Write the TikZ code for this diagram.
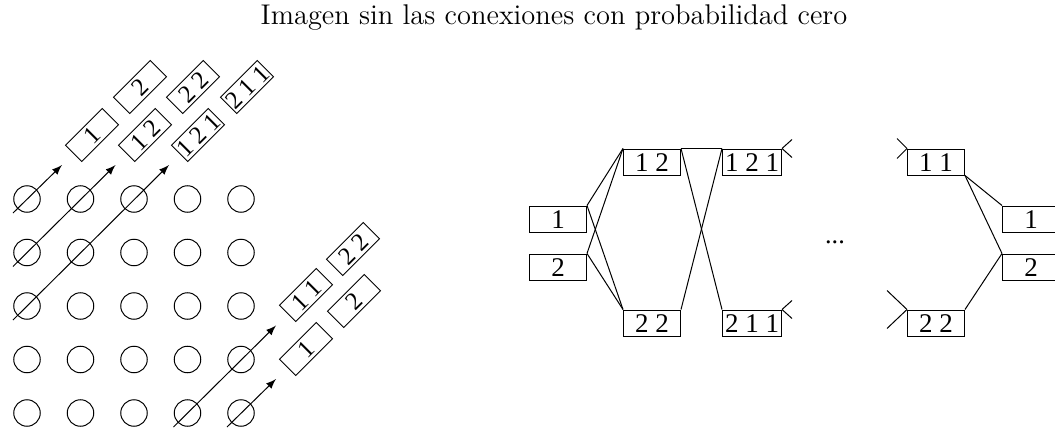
\documentclass[tikz,border=0pt]{standalone}
\usepackage{fontspec}
\usetikzlibrary{calc}
\newfontfamily\cajafont{Liberation Serif}
\tikzset{
  bola/.style={draw, circle, minimum size=10.6pt, inner sep=0pt},
  celda/.style={draw, rectangle, font=\cajafont\fontsize{10.8}{12}\selectfont,
    minimum width=22.8pt, minimum height=10.4pt, inner sep=1pt,
    text height=7.6pt, text depth=0pt},
  diag/.style={draw, rectangle, rotate=45, font=\cajafont\fontsize{10}{11}\selectfont,
    minimum width=20.8pt, minimum height=9.2pt, inner sep=0.3pt,
    text height=7pt, text depth=0pt},
}
\begin{document}
\begin{tikzpicture}[x=0.4pt, y=-0.4pt]
\useasboundingbox (0,0) rectangle (1055,433);
% titulo
\node[font=\fontsize{11.4}{13}\selectfont] (titulo) at (554,18) {Imagen sin las conexiones con probabilidad cero};
% rejilla de bolas
\foreach \i in {0,...,4}
  \foreach \j in {0,...,4}
    \node[bola] (c\i\j) at (27+53.5*\i, 199+53.5*\j) {};
% diagonales con flecha
\draw[-latex] ($(c00)+(-14,14)$) -- ($(c00)+(35,-34)$);
\draw[-latex] ($(c01)+(-14,14)$) -- ($(c10)+(35,-34)$);
\draw[-latex] ($(c02)+(-14,14)$) -- ($(c20)+(35,-34)$);
\draw[-latex] ($(c34)+(-14,14)$) -- ($(c43)+(35,-34)$);
\draw[-latex] ($(c44)+(-14,14)$) -- ($(c44)+(35,-34)$);
% cadenas arriba
\node[diag] (d1) at (92,135) {1};
\node[diag] (d12) at (145,135) {1 2};
\node[diag] (d121) at (198,135) {1 2 1};
\node[diag] (d2) at (140,87) {2};
\node[diag] (d22) at (193,87) {2 2};
\node[diag] (d211) at (247,87) {2 1 1};
% cadenas abajo
\node[diag] (e1) at (306,349) {1};
\node[diag] (e11) at (306,295) {1 1};
\node[diag] (e2) at (354,301) {2};
\node[diag] (e22) at (353,249) {2 2};
% grafo
\node[celda] (n1) at (558,219) {1};
\node[celda] (n2) at (558,267) {2};
\node[celda] (n12) at (652,162) {1 2};
\node[celda] (n22) at (652,323) {2 2};
\node[celda] (n121) at (752,162) {1 2 1};
\node[celda] (n211) at (752,323) {2 1 1};
\node[font=\cajafont\fontsize{10.5}{12}\selectfont] (puntos) at (835,242) {...};
\node[celda] (m11) at (936,162) {1 1};
\node[celda] (m22) at (936,323) {2 2};
\node[celda] (m1) at (1031,219) {1};
\node[celda] (m2) at (1031,267) {2};
\draw (n1.north east) -- (n12.north west);
\draw (n1.north east) -- (n22.north west);
\draw (n2.north east) -- (n12.north west);
\draw (n2.north east) -- (n22.north west);
\draw (n12.north east) -- (n121.north west);
\draw (n12.north east) -- (n211.north west);
\draw (n22.north east) -- (n121.north west);
\draw (n121.north east) -- ++(10,-9);
\draw (n121.north east) -- ++(10,9);
\draw (n211.north east) -- ++(10,-9);
\draw (n211.north east) -- ++(10,9);
\draw (m11.north west) -- ++(-10,-10);
\draw (m11.north west) -- ++(-10,10);
\draw (m22.north west) -- ++(-20,-19);
\draw (m22.north west) -- ++(-20,19);
\draw (m11.south east) -- (m1.north west);
\draw (m11.south east) -- (m2.north west);
\draw (m22.north east) -- (m2.north west);
\end{tikzpicture}
\end{document}
